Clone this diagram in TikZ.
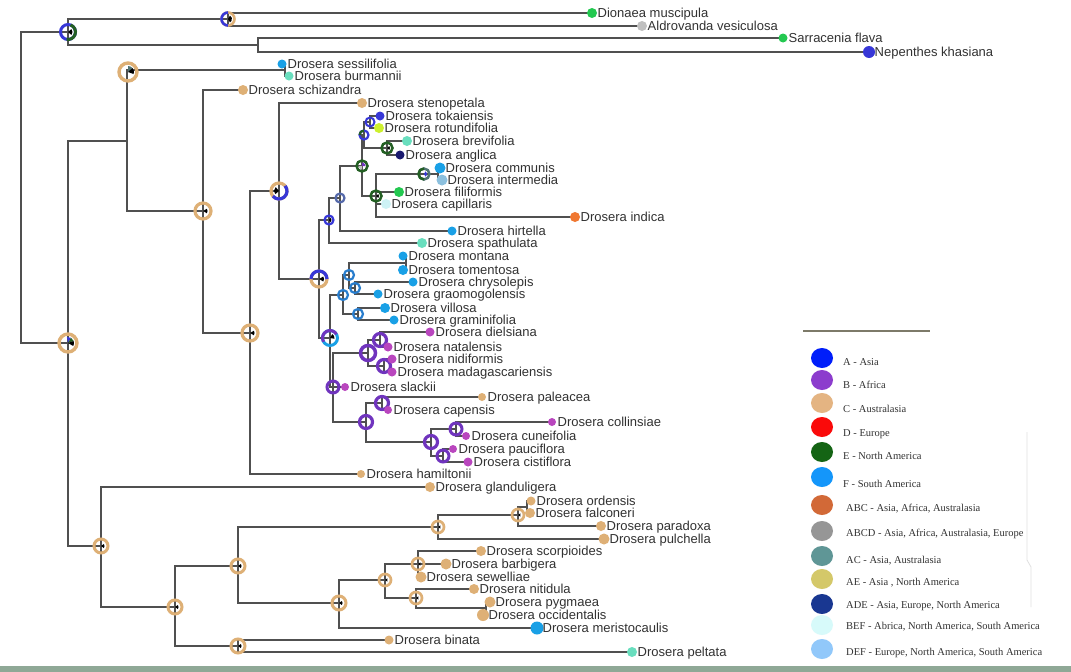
\documentclass[tikz,border=0pt]{standalone}
\usepackage{fontspec}
\setmainfont{Liberation Sans}
\newfontfamily\legfont{Liberation Serif}
\usetikzlibrary{shapes.geometric}
\definecolor{lin}{RGB}{80,80,80}
\definecolor{txt}{RGB}{50,50,50}
\definecolor{cAus}{RGB}{222,176,118}
\definecolor{cAsia}{RGB}{55,55,215}
\definecolor{cAfr}{RGB}{112,52,190}
\definecolor{cAfrTip}{RGB}{185,70,190}
\definecolor{cGreen}{RGB}{35,200,80}
\definecolor{cDkGreen}{RGB}{35,95,35}
\definecolor{cGray}{RGB}{192,192,192}
\definecolor{cSky}{RGB}{25,160,230}
\definecolor{cTurq}{RGB}{105,222,190}
\definecolor{cLime}{RGB}{205,240,45}
\definecolor{cNavy}{RGB}{25,25,110}
\definecolor{cLtBlue}{RGB}{140,192,222}
\definecolor{cPale}{RGB}{205,242,245}
\definecolor{cOrange}{RGB}{240,120,50}
\definecolor{cRing}{RGB}{40,125,205}
\definecolor{cGB}{RGB}{85,105,170}
\definecolor{cTeal}{RGB}{80,115,115}
\definecolor{cBand}{RGB}{143,168,150}
\definecolor{cLegLine}{RGB}{125,122,105}
\definecolor{lA}{RGB}{0,30,250}
\definecolor{lB}{RGB}{140,60,205}
\definecolor{lC}{RGB}{228,180,130}
\definecolor{lD}{RGB}{250,10,10}
\definecolor{lE}{RGB}{20,100,20}
\definecolor{lF}{RGB}{20,150,250}
\definecolor{lABC}{RGB}{210,105,55}
\definecolor{lABCD}{RGB}{150,150,150}
\definecolor{lAC}{RGB}{95,150,150}
\definecolor{lAE}{RGB}{212,200,105}
\definecolor{lADE}{RGB}{25,55,145}
\definecolor{lBEF}{RGB}{215,250,250}
\definecolor{lDEF}{RGB}{145,200,250}
\tikzset{
  br/.style={draw=lin, line width=1.3pt},
  tipdot/.style={circle, fill=#1, inner sep=0pt},
  lab/.style={anchor=base west, inner sep=0pt, text=txt, font=\fontsize{13}{14}\selectfont},
  ring/.style={circle, draw=#1, inner sep=0pt},
  legdot/.style={ellipse, fill=#1, inner sep=0pt, minimum width=22pt, minimum height=20pt},
  legtxt/.style={anchor=base west, inner sep=0pt, text=txt, font=\legfont\fontsize{10.5}{12}\selectfont},
}
\newcommand\kids[2]{\foreach \k in {#2}{\draw[br] (#1) |- (\k);}}
\newcommand\rarc[6]{\draw[#6, line width=#3] (#1) ++(#4:#2) arc[start angle=#4, end angle=#5, radius=#2];}
\newcommand\pw[5]{\fill[#5] (#1) -- ++(#3:#2) arc[start angle=#3, end angle=#4, radius=#2] -- cycle;}
\newcommand\rg[5]{\node[ring=#3, line width=#5pt, minimum size=#4pt] (#1) at (#2) {};}
\newcommand\tp[4]{\node[tipdot=#2, minimum size=#3pt] (d#1) at (#1) {}; \path (#1) ++(5.5,4.5) node[lab] (l#1) {#4};}
\newcommand\legent[6]{\node[legdot=#2] (g#1) at (822,#3) {}; \node[legtxt] (gt#1) at (#4,#5) {#6};}
\begin{document}
\begin{tikzpicture}[x=1pt,y=-1pt]
\useasboundingbox (0,0) rectangle (1071,672);
\fill[white] (0,0) rectangle (1071,672);
\fill[cBand] (0,665.5) rectangle (1071,672);
% internal nodes
\coordinate (R0) at (21,187);
\coordinate (N1) at (68,32);
\coordinate (N2) at (228,19);
\coordinate (N3) at (258,45);
\coordinate (D) at (68,343);
\coordinate (U) at (127,141);
\coordinate (S1) at (285,70);
\coordinate (V) at (203,211);
\coordinate (W) at (250,333);
\coordinate (X) at (279,191);
\coordinate (Y) at (319,279);
\coordinate (Z1) at (329,220);
\coordinate (Z3) at (340,198);
\coordinate (Z4) at (362,166);
\coordinate (Z5) at (364,135);
\coordinate (Z7) at (370,122);
\coordinate (Z8) at (387,148);
\coordinate (Z6) at (376,196);
\coordinate (Z9) at (438,174);
\coordinate (Z2) at (330,338);
\coordinate (Z11) at (343,295);
\coordinate (Z13) at (349,275);
\coordinate (Z24) at (406,263);
\coordinate (Z15) at (355,288);
\coordinate (Z14) at (358,314);
\coordinate (Z12) at (333,387);
\coordinate (Z16) at (368,353);
\coordinate (Z18) at (380,340);
\coordinate (Z19) at (384,366);
\coordinate (Z17) at (366,422);
\coordinate (Z20) at (382,403);
\coordinate (Z21) at (431,442);
\coordinate (Z22) at (456,429);
\coordinate (Z23) at (443,456);
\coordinate (L) at (101,546);
\coordinate (M) at (175,607);
\coordinate (BP) at (238,646);
\coordinate (P) at (238,566);
\coordinate (Q) at (438,527);
\coordinate (O1) at (518,515);
\coordinate (O2) at (527,507);
\coordinate (R2) at (339,603);
\coordinate (R3) at (385,580);
\coordinate (R4) at (418,564);
\coordinate (R5) at (416,598);
\coordinate (R6) at (486,608);
\coordinate (c72) at (128,72);
\coordinate (Z9r) at (424,174);
% tips
\coordinate (t1) at (592,13);
\coordinate (t2) at (642,26);
\coordinate (t3) at (783,38);
\coordinate (t4) at (869,52);
\coordinate (t5) at (282,64);
\coordinate (t6) at (289,76);
\coordinate (t7) at (243,90);
\coordinate (t8) at (362,103);
\coordinate (t9) at (380,116);
\coordinate (t10) at (379,128);
\coordinate (t11) at (407,141);
\coordinate (t12) at (400,155);
\coordinate (t13) at (440,168);
\coordinate (t14) at (442,180);
\coordinate (t15) at (399,192);
\coordinate (t16) at (386,204);
\coordinate (t17) at (575,217);
\coordinate (t18) at (452,231);
\coordinate (t19) at (422,243);
\coordinate (t20) at (403,256);
\coordinate (t21) at (403,270);
\coordinate (t22) at (413,282);
\coordinate (t23) at (378,294);
\coordinate (t24) at (385,308);
\coordinate (t25) at (394,320);
\coordinate (t26) at (430,332);
\coordinate (t27) at (388,347);
\coordinate (t28) at (392,359);
\coordinate (t29) at (392,372);
\coordinate (t30) at (345,387);
\coordinate (t31) at (482,397);
\coordinate (t32) at (388,410);
\coordinate (t33) at (552,422);
\coordinate (t34) at (466,436);
\coordinate (t35) at (453,449);
\coordinate (t36) at (468,462);
\coordinate (t37) at (361,474);
\coordinate (t38) at (430,487);
\coordinate (t39) at (531,501);
\coordinate (t40) at (530,513);
\coordinate (t41) at (601,526);
\coordinate (t42) at (604,539);
\coordinate (t43) at (481,551);
\coordinate (t44) at (446,564);
\coordinate (t45) at (421,577);
\coordinate (t46) at (474,589);
\coordinate (t47) at (490,602);
\coordinate (t48) at (483,615);
\coordinate (t49) at (537,628);
\coordinate (t50) at (389,640);
\coordinate (t51) at (632,652);
% branches
\kids{R0}{N1,D}
\kids{N1}{N2,N3}
\kids{N2}{t1,t2}
\kids{N3}{t3,t4}
\kids{D}{U,L}
\kids{U}{S1,V}
\kids{S1}{t5,t6}
\kids{V}{t7,W}
\kids{W}{X,t37}
\kids{X}{t8,Y}
\kids{Y}{Z1,Z2}
\kids{Z1}{Z3,t19}
\kids{Z3}{Z4,t18}
\kids{Z4}{Z5,Z6}
\kids{Z5}{Z7,Z8}
\kids{Z7}{t9,t10}
\kids{Z8}{t11,t12}
\kids{Z6}{Z9,t15,t16,t17}
\kids{Z9}{t13,t14}
\kids{Z2}{Z11,Z12}
\kids{Z11}{Z13,Z14}
\kids{Z13}{Z24,Z15}
\kids{Z24}{t20,t21}
\kids{Z15}{t22,t23}
\kids{Z14}{t24,t25}
\kids{Z12}{Z16,t30,Z17}
\kids{Z16}{Z18,Z19}
\kids{Z18}{t26,t27}
\kids{Z19}{t28,t29}
\kids{Z17}{Z20,Z21}
\kids{Z20}{t31,t32}
\kids{Z21}{Z22,Z23}
\kids{Z22}{t33,t34}
\kids{Z23}{t35,t36}
\kids{L}{t38,M}
\kids{M}{P,BP}
\kids{BP}{t50,t51}
\kids{P}{Q,R2}
\kids{Q}{O1,t42}
\kids{O1}{O2,t41}
\kids{O2}{t39,t40}
\kids{R2}{R3,t49}
\kids{R3}{R4,R5}
\kids{R4}{t43,t44,t45}
\kids{R5}{t46,R6}
\kids{R6}{t47,t48}
% node pies
\rg{pN1}{N1}{cAsia}{15}{3}
\rarc{N1}{7.5}{3pt}{-70}{100}{cDkGreen}
\pw{N1}{4.5}{-40}{40}{black}
\rg{pN2}{N2}{cAus}{13}{2.6}
\rarc{N2}{6.5}{2.6pt}{90}{270}{cAsia}
\pw{N2}{4}{-60}{60}{black}
\rg{pD}{D}{cAus}{18}{3.4}
\pw{D}{6}{-100}{-60}{cAsia}
\pw{D}{6}{-60}{-20}{cDkGreen}
\pw{D}{6}{-20}{30}{black}
\rg{pc72}{c72}{cAus}{18}{3.4}
\pw{c72}{6}{-90}{-40}{cTeal}
\pw{c72}{6}{-40}{20}{black}
\rg{pV}{V}{cAus}{16}{3.2}
\pw{V}{4.5}{-30}{30}{black}
\rg{pW}{W}{cAus}{16}{3.2}
\pw{W}{4.5}{-30}{30}{black}
\rg{pX}{X}{cAus}{16}{3.2}
\rarc{X}{8}{3.2pt}{-40}{140}{cAsia}
\pw{X}{5}{140}{230}{black}
\rg{pY}{Y}{cAus}{16}{3.2}
\rarc{Y}{8}{3.2pt}{180}{360}{cAsia}
\pw{Y}{5}{-30}{30}{black}
\rg{pZ1}{Z1}{cAsia}{9}{2.2}
\pw{Z1}{2.5}{-60}{60}{black}
\rg{pZ3}{Z3}{cGB}{9}{2.2}
\rg{pZ4}{Z4}{cDkGreen}{11}{2.5}
\pw{Z4}{3.5}{-90}{0}{cAfr}
\pw{Z4}{3.5}{90}{180}{cGray}
\rg{pZ5}{Z5}{cAsia}{9}{2.2}
\rarc{Z5}{4.5}{2.2pt}{180}{270}{cDkGreen}
\rg{pZ7}{Z7}{cAsia}{9}{2}
\rg{pZ8}{Z8}{cDkGreen}{11}{2.5}
\pw{Z8}{3}{-40}{40}{black}
\rg{pZ6}{Z6}{cDkGreen}{11}{2.5}
\pw{Z6}{3}{-40}{40}{black}
\rg{pZ9}{Z9r}{cTeal}{11}{2.5}
\rarc{Z9r}{5.5}{2.5pt}{90}{270}{cDkGreen}
\pw{Z9r}{3}{-60}{60}{cAsia}
\rg{pZ2}{Z2}{cSky}{15}{3}
\rarc{Z2}{7.5}{3pt}{150}{330}{cAfr}
\pw{Z2}{4.5}{-60}{10}{black}
\foreach \n in {Z11,Z13,Z15,Z14}{\rg{p\n}{\n}{cRing}{10}{2.2}}
\rg{pZ12}{Z12}{cAfr}{12}{3}
\rg{pZ16}{Z16}{cAfr}{15}{3.5}
\foreach \n in {Z18,Z19,Z17,Z20,Z21}{\rg{p\n}{\n}{cAfr}{13}{3.2}}
\foreach \n in {Z22,Z23}{\rg{p\n}{\n}{cAfr}{12}{3}}
\foreach \n in {L,M,P,BP,R2}{\rg{p\n}{\n}{cAus}{14}{3}\pw{\n}{3.5}{-35}{35}{black}}
\foreach \n in {Q,O1,R3,R4,R5}{\rg{p\n}{\n}{cAus}{12}{2.7}\pw{\n}{3}{-35}{35}{black}}
% tips
\tp{t1}{cGreen}{10}{Dionaea muscipula}
\tp{t2}{cGray}{10}{Aldrovanda vesiculosa}
\tp{t3}{cGreen}{9}{Sarracenia flava}
\tp{t4}{cAsia}{12}{Nepenthes khasiana}
\tp{t5}{cSky}{9}{Drosera sessilifolia}
\tp{t6}{cTurq}{9}{Drosera burmannii}
\tp{t7}{cAus}{10}{Drosera schizandra}
\tp{t8}{cAus}{10}{Drosera stenopetala}
\tp{t9}{cAsia}{9}{Drosera tokaiensis}
\tp{t10}{cLime}{10}{Drosera rotundifolia}
\tp{t11}{cTurq}{10}{Drosera brevifolia}
\tp{t12}{cNavy}{9}{Drosera anglica}
\tp{t13}{cSky}{11}{Drosera communis}
\tp{t14}{cLtBlue}{11}{Drosera intermedia}
\tp{t15}{cGreen}{10}{Drosera filiformis}
\tp{t16}{cPale}{10}{Drosera capillaris}
\tp{t17}{cOrange}{10}{Drosera indica}
\tp{t18}{cSky}{9}{Drosera hirtella}
\tp{t19}{cTurq}{10}{Drosera spathulata}
\tp{t20}{cSky}{9}{Drosera montana}
\tp{t21}{cSky}{10}{Drosera tomentosa}
\tp{t22}{cSky}{9}{Drosera chrysolepis}
\tp{t23}{cSky}{9}{Drosera graomogolensis}
\tp{t24}{cSky}{10}{Drosera villosa}
\tp{t25}{cSky}{9}{Drosera graminifolia}
\tp{t26}{cAfrTip}{9}{Drosera dielsiana}
\tp{t27}{cAfrTip}{9}{Drosera natalensis}
\tp{t28}{cAfrTip}{9}{Drosera nidiformis}
\tp{t29}{cAfrTip}{9}{Drosera madagascariensis}
\tp{t30}{cAfrTip}{8}{Drosera slackii}
\tp{t31}{cAus}{8}{Drosera paleacea}
\tp{t32}{cAfrTip}{8}{Drosera capensis}
\tp{t33}{cAfrTip}{8}{Drosera collinsiae}
\tp{t34}{cAfrTip}{8}{Drosera cuneifolia}
\tp{t35}{cAfrTip}{8}{Drosera pauciflora}
\tp{t36}{cAfrTip}{9}{Drosera cistiflora}
\tp{t37}{cAus}{8}{Drosera hamiltonii}
\tp{t38}{cAus}{10}{Drosera glanduligera}
\tp{t39}{cAus}{9}{Drosera ordensis}
\tp{t40}{cAus}{10}{Drosera falconeri}
\tp{t41}{cAus}{10}{Drosera paradoxa}
\tp{t42}{cAus}{11}{Drosera pulchella}
\tp{t43}{cAus}{10}{Drosera scorpioides}
\tp{t44}{cAus}{11}{Drosera barbigera}
\tp{t45}{cAus}{11}{Drosera sewelliae}
\tp{t46}{cAus}{10}{Drosera nitidula}
\tp{t47}{cAus}{11}{Drosera pygmaea}
\tp{t48}{cAus}{12}{Drosera occidentalis}
\tp{t49}{cSky}{13}{Drosera meristocaulis}
\tp{t50}{cAus}{9}{Drosera binata}
\tp{t51}{cTurq}{10}{Drosera peltata}
% legend
\coordinate (lg1) at (803,331);
\coordinate (lg2) at (930,331);
\draw[cLegLine, line width=1.3pt] (lg1) -- (lg2);
\coordinate (fl1) at (1027,432);
\coordinate (fl2) at (1031,607);
\draw[black!12, line width=0.8pt] (fl1) -- (1027,560) -- (1031,567) -- (fl2);
\legent{A}{lA}{358}{843}{365}{A - Asia}
\legent{B}{lB}{380}{843}{388}{B - Africa}
\legent{C}{lC}{403}{843}{412}{C - Australasia}
\legent{D}{lD}{427}{843}{436}{D - Europe}
\legent{E}{lE}{452}{843}{459}{E - North America}
\legent{F}{lF}{477}{843}{487}{F - South America}
\legent{ABC}{lABC}{505}{846}{511}{ABC - Asia, Africa, Australasia}
\legent{ABCD}{lABCD}{531}{846}{536}{ABCD - Asia, Africa, Australasia, Europe}
\legent{AC}{lAC}{556}{846}{563}{AC - Asia, Australasia}
\legent{AE}{lAE}{579}{846}{585}{AE - Asia , North America}
\legent{ADE}{lADE}{604}{846}{608}{ADE - Asia, Europe, North America}
\legent{BEF}{lBEF}{625}{846}{629}{BEF - Abrica, North America, South America}
\legent{DEF}{lDEF}{649}{846}{655}{DEF - Europe, North America, South America}
\end{tikzpicture}
\end{document}
